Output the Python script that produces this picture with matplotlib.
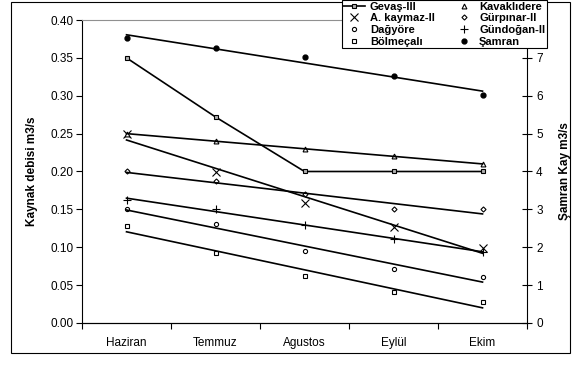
import matplotlib.pyplot as plt
import numpy as np
from matplotlib.patches import Rectangle

plt.rcParams['font.family'] = ['Liberation Sans', 'DejaVu Sans']

months = ['Haziran', 'Temmuz', 'Agustos', 'Eylül', 'Ekim']

# spring discharges, m3/s (left axis)
gevas = [0.350, 0.272, 0.200, 0.200, 0.200]
kaymaz = [0.250, 0.199, 0.159, 0.127, 0.099]
dagyore = [0.150, 0.131, 0.095, 0.071, 0.061]
bolmecali = [0.128, 0.092, 0.062, 0.041, 0.028]
kavaklidere = [0.250, 0.240, 0.230, 0.220, 0.210]
gurpinar = [0.200, 0.187, 0.170, 0.150, 0.150]
gundogan = [0.163, 0.150, 0.129, 0.111, 0.094]
# Şamran canal, m3/s (right axis)
samran = [7.52, 7.25, 7.01, 6.53, 6.02]

x = np.arange(len(months))

fig = plt.figure(figsize=(5.78, 3.65), dpi=100)
ax = fig.add_axes([0.1419, 0.1151, 0.7699, 0.8301])
ax2 = ax.twinx()


def with_trend(axis, vals, label, **mk):
    # markers only, plus a linear trendline across the months
    axis.plot(x, vals, linestyle='none', color='black', label=label, **mk)
    k, b = np.polyfit(x, vals, 1)
    axis.plot(x, k * x + b, color='black', lw=1.2)


ax.plot(x, gevas, color='black', lw=1.2, marker='s', markersize=3.5,
        markerfacecolor='#b0b0b0', markeredgecolor='black', markeredgewidth=0.8,
        label='Gevaş-III')
with_trend(ax, kaymaz, 'A. kaymaz-II', marker='x', markersize=5.5, markeredgewidth=0.8)
with_trend(ax, dagyore, 'Dağyöre', marker='o', markersize=3,
           markerfacecolor='white', markeredgewidth=0.8)
with_trend(ax, bolmecali, 'Bölmeçalı', marker='s', markersize=3,
           markerfacecolor='white', markeredgewidth=0.8)
with_trend(ax, kavaklidere, 'Kavaklıdere', marker='^', markersize=3.5,
           markerfacecolor='white', markeredgewidth=0.8)
with_trend(ax, gurpinar, 'Gürpınar-II', marker='D', markersize=2.6,
           markerfacecolor='white', markeredgewidth=0.8)
with_trend(ax, gundogan, 'Gündoğan-II', marker='+', markersize=6, markeredgewidth=0.8)
with_trend(ax2, samran, 'Şamran', marker='o', markersize=3.5)

ax.set_xlim(-0.5, len(months) - 0.5)
ax.set_ylim(0, 0.40)
ax.set_yticks(np.arange(0, 0.401, 0.05))
ax.set_yticklabels([f'{v:.2f}' for v in np.arange(0, 0.401, 0.05)])
ax.set_xticks(np.arange(-0.5, len(months), 1.0))
ax.set_xticklabels([])
ax.set_xticks(x, minor=True)
ax.set_xticklabels(months, minor=True)
ax.tick_params(axis='x', which='major', direction='out', length=4, width=0.8)
ax.tick_params(axis='x', which='minor', length=0, pad=10, labelsize=8.5)
ax.tick_params(axis='y', direction='out', length=4, width=0.8, pad=2, labelsize=8.5)
ax.spines['top'].set_color('#909090')
ax.spines['right'].set_visible(False)
ax.set_ylabel('Kaynak debisi m3/s', fontsize=8.5, fontweight='bold', labelpad=9)

ax2.set_ylim(0, 8)
ax2.set_yticks(range(0, 8))
ax2.tick_params(axis='y', direction='inout', length=7, width=0.8, pad=3, labelsize=8.5)
ax2.spines['top'].set_visible(False)
ax2.spines['left'].set_visible(False)
ax2.set_ylabel('Şamran Kay m3/s', fontsize=8.5, fontweight='bold', labelpad=12)

handles, labels = [], []
for a in (ax, ax2):
    h, l = a.get_legend_handles_labels()
    handles += h
    labels += l
leg = fig.legend(handles, labels, ncol=2, loc='upper right',
                 bbox_to_anchor=(547 / 578, 1.0),
                 prop={'size': 8, 'weight': 'bold'},
                 handlelength=2.0, handletextpad=0.4, columnspacing=1.6,
                 labelspacing=0.15, borderpad=0.15, borderaxespad=0,
                 fancybox=False, framealpha=1, edgecolor='black')
leg.get_frame().set_linewidth(0.8)

# outer chart frame
fig.patches.append(Rectangle((11 / 578, 12 / 365), 559 / 578, 351 / 365,
                             transform=fig.transFigure, fill=False,
                             edgecolor='black', lw=0.8, zorder=0))

fig.savefig('out.png', dpi=100)
